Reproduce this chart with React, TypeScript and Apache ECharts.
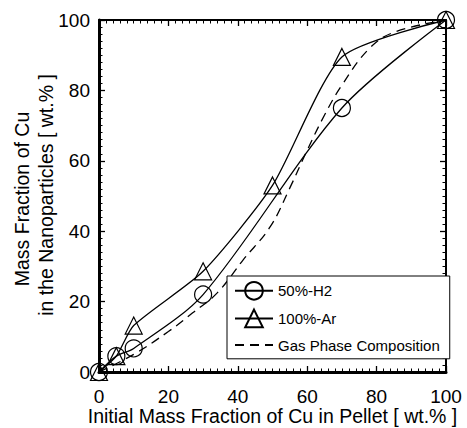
import React, { useEffect, useRef } from "react";
import * as echarts from "echarts";

const xTicks = [0, 20, 40, 60, 80, 100];
const h2Data: [number, number][] = [
  [0, 0], [5, 4.5], [10, 6.7], [30, 22], [70, 75], [100, 100],
];
const arData: [number, number][] = [
  [0, 0], [5, 4.5], [10, 13.2], [30, 28.6], [50, 53], [70, 89.5], [100, 100],
];
const gasData: [number, number][] = [
  [0, 0], [10, 5], [20, 11.5], [27, 16.8], [34, 22.4], [41.5, 31.8], [49.3, 41.2],
  [55, 52.3], [60, 63], [65, 73], [70, 81.5], [78, 92], [85, 96.5], [100, 100],
];
const yTitle1 = "Mass Fraction of Cu";
const yTitle2 = "in the Nanoparticles [ wt.% ]";
const xTitle = "Initial Mass Fraction of Cu in Pellet [ wt.% ]";
const legendNames = ["50%-H2", "100%-Ar", "Gas Phase Composition"];

const FONT = "Liberation Sans, Arial, sans-serif";

export default function App() {
  const ref = useRef<HTMLDivElement>(null);
  useEffect(() => {
    if (!ref.current) return;
    const chart = echarts.init(ref.current, undefined, { renderer: "svg" });
    const axisCommon = (width: number) => ({
      type: "value" as const,
      min: 0,
      max: 100,
      interval: 20,
      axisLine: { show: true, onZero: false, lineStyle: { color: "#000", width } },
      axisTick: { show: true, inside: true, length: 6, lineStyle: { color: "#000", width: 1.3 } },
      minorTick: { show: true, splitNumber: 10, length: 3.5, lineStyle: { color: "#000", width: 1 } },
      splitLine: { show: false },
      minorSplitLine: { show: false },
    });
    const sym = {
      symbolSize: 17,
      itemStyle: { color: "rgba(255,255,255,0)", borderColor: "#000", borderWidth: 1.2 },
    };
    chart.setOption({
      animation: false,
      backgroundColor: "#fff",
      grid: { left: 99, right: 21, top: 20, bottom: 56, containLabel: false, outerBoundsMode: "none" },
      xAxis: [
        {
          ...axisCommon(3),
          position: "bottom",
          name: xTitle,
          nameLocation: "middle",
          nameGap: 34,
          nameMoveOverlap: false,
          nameTextStyle: { fontSize: 19.5, color: "#000", fontFamily: FONT, lineHeight: 20 },
          axisLabel: {
            show: true, margin: 15, fontSize: 19, color: "#000", fontFamily: FONT,
            formatter: (v: number) => (xTicks.includes(v) ? String(v) : ""),
          },
        },
        { ...axisCommon(2), position: "top", axisLabel: { show: false } },
      ],
      yAxis: [
        {
          ...axisCommon(3),
          position: "left",
          axisLabel: { show: true, margin: 9, fontSize: 19, color: "#000", fontFamily: FONT },
        },
        { ...axisCommon(2), position: "right", axisLabel: { show: false } },
      ],
      legend: {
        orient: "vertical",
        left: 227,
        top: 276,
        data: [
          { name: legendNames[0] },
          { name: legendNames[1] },
          { name: legendNames[2], itemStyle: { opacity: 0 } },
        ],
        itemWidth: 38,
        itemHeight: 22,
        itemGap: 8,
        padding: [5, 10, 5, 7],
        borderColor: "#000",
        borderWidth: 1,
        borderRadius: 0,
        backgroundColor: "#fff",
        textStyle: { fontSize: 15, color: "#000", fontFamily: FONT, padding: [0, 0, 0, 0] },
      },
      graphic: [
        {
          type: "text",
          x: 21.5,
          y: 199,
          rotation: Math.PI / 2,
          style: {
            text: yTitle1, fontSize: 19.5, fontFamily: FONT, fill: "#000",
            align: "center", verticalAlign: "middle",
          },
        },
        {
          type: "text",
          x: 45.5,
          y: 195,
          rotation: Math.PI / 2,
          style: {
            text: yTitle2, fontSize: 19.5, fontFamily: FONT, fill: "#000",
            align: "center", verticalAlign: "middle",
          },
        },
      ],
      series: [
        {
          name: legendNames[0],
          type: "line",
          data: h2Data,
          smooth: 0.3,
          symbol: "circle",
          ...sym,
          lineStyle: { color: "#000", width: 1.3 },
          z: 3,
        },
        {
          name: legendNames[1],
          type: "line",
          data: arData,
          smooth: 0.22,
          symbol: "triangle",
          ...sym,
          lineStyle: { color: "#000", width: 1.3 },
          z: 3,
        },
        {
          name: legendNames[2],
          type: "line",
          data: gasData,
          smooth: 0.4,
          symbol: "none",
          itemStyle: { color: "#000" },
          lineStyle: { color: "#000", width: 1.3, type: [9, 6] },
          z: 2,
        },
      ],
    });
    return () => chart.dispose();
  }, []);
  return <div ref={ref} style={{ width: 467, height: 428, position: "absolute", left: 0, top: 0 }} />;
}
